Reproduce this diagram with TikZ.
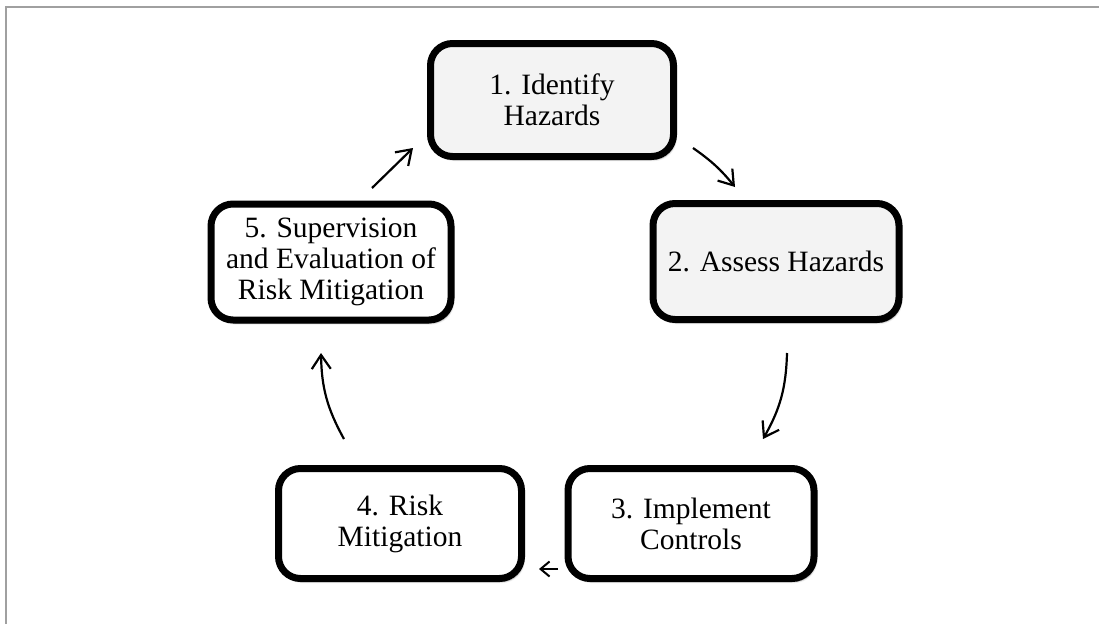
\documentclass[tikz,border=0pt]{standalone}
\usepackage{fontspec}
\setmainfont{Liberation Serif}
\usetikzlibrary{arrows.meta,shadows.blur}
\definecolor{framegray}{RGB}{160,160,160}
\definecolor{boxgray}{RGB}{243,243,243}
\begin{document}
\begin{tikzpicture}[x=1pt,y=1pt,
  stage/.style={draw=black, line width=7pt, rounded corners=22pt, align=center,
    font=\fontsize{29.5}{31}\selectfont, inner sep=0pt, fill=white,
    blur shadow={shadow xshift=2pt, shadow yshift=-3pt, shadow blur steps=8, shadow opacity=45}},
  grayfill/.style={fill=boxgray},
  flow/.style={line width=2.2pt, -{Straight Barb[length=14pt,width=19pt,line width=2.2pt]}},
  shortflow/.style={line width=2pt, -{Straight Barb[length=9pt,width=15pt,line width=2pt]}}
]
\useasboundingbox (0,0) rectangle (1099,-624);
\draw[framegray, line width=2pt] (5.5,-624) -- (5.5,-6.5) -- (1099,-6.5);

\node[stage, grayfill, minimum width=243pt, minimum height=113pt] (n1) at (552,-100) {1. Identify\\Hazards};
\node[stage, grayfill, minimum width=246pt, minimum height=116pt] (n2) at (776,-261.5) {2. Assess Hazards};
\node[stage, minimum width=246pt, minimum height=110pt] (n3) at (691,-523.5) {3. Implement\\Controls};
\node[stage, minimum width=243pt, minimum height=110pt] (n4) at (400,-523.5) {4. Risk\\Mitigation};
\node[stage, minimum width=240pt, minimum height=116pt] (n5) at (331,-262) {5. Supervision\\and Evaluation of\\Risk Mitigation};

\coordinate (a1s) at (372,-188);
\coordinate (a1e) at (413,-148);
\coordinate (a2s) at (693,-148);
\coordinate (a2e) at (735,-187);
\coordinate (a3s) at (787,-353);
\coordinate (a3e) at (763,-439);
\coordinate (a4s) at (558,-569);
\coordinate (a4e) at (539,-569);
\coordinate (a5s) at (344,-439);
\coordinate (a5e) at (321,-353);

\draw[flow] (a1s) -- (a1e);
\draw[flow] (a2s) to[bend left=8] (a2e);
\draw[flow] (a3s) to[bend left=14] (a3e);
\draw[shortflow] (a4s) -- (a4e);
\draw[flow] (a5s) to[bend left=14] (a5e);
\end{tikzpicture}
\end{document}
